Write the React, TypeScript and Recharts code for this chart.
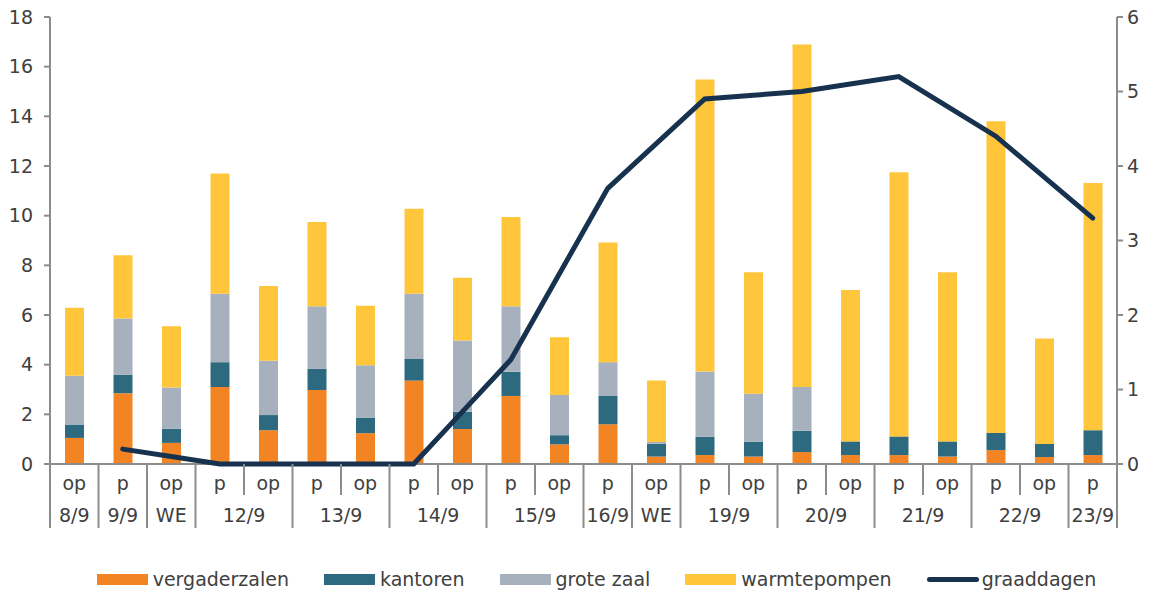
import {
  ComposedChart,
  Bar,
  Line,
  XAxis,
  YAxis,
  Legend,
} from "recharts";

const periods = ["op", "p", "op", "p", "op", "p", "op", "p", "op", "p", "op", "p", "op", "p", "op", "p", "op", "p", "op", "p", "op", "p"];
const groupLabels = ["8/9", "9/9", "WE", "12/9", "13/9", "14/9", "15/9", "16/9", "WE", "19/9", "20/9", "21/9", "22/9", "23/9"];
const groupSpans = [1, 1, 1, 2, 2, 2, 2, 1, 1, 2, 2, 2, 2, 1];

const vergaderzalen = [1.05, 2.85, 0.85, 3.1, 1.36, 2.98, 1.24, 3.36, 1.41, 2.74, 0.79, 1.6, 0.3, 0.36, 0.3, 0.48, 0.36, 0.36, 0.3, 0.56, 0.28, 0.36];
const kantoren = [0.54, 0.75, 0.57, 1.0, 0.61, 0.86, 0.63, 0.87, 0.69, 0.97, 0.37, 1.14, 0.52, 0.74, 0.6, 0.86, 0.55, 0.75, 0.61, 0.69, 0.53, 1.0];
const groteZaal = [1.96, 2.26, 1.66, 2.76, 2.19, 2.51, 2.11, 2.63, 2.87, 2.64, 1.62, 1.36, 0.07, 2.62, 1.93, 1.76, 0, 0, 0, 0, 0, 0];
const warmtepompen = [2.74, 2.55, 2.47, 4.84, 3.01, 3.4, 2.39, 3.42, 2.53, 3.6, 2.32, 4.82, 2.47, 11.76, 4.89, 13.79, 6.1, 10.64, 6.81, 12.55, 4.24, 9.96];
const graaddagen = [null, 0.2, 0.1, 0, 0, 0, 0, 0, 0.7, 1.4, 2.55, 3.7, 4.3, 4.9, 4.95, 5.0, 5.1, 5.2, 4.8, 4.4, 3.85, 3.3];

const leftTicks = [0, 2, 4, 6, 8, 10, 12, 14, 16, 18];
const rightTicks = [0, 1, 2, 3, 4, 5, 6];

const COLORS = {
  vergaderzalen: "#f28423",
  kantoren: "#2e6a7f",
  groteZaal: "#a7b1bd",
  warmtepompen: "#ffc63c",
  graaddagen: "#17324f",
};
const AXIS = "#8c8c8c";
const TEXT = "#404040";
const FONT = "'DejaVu Sans', sans-serif";
const FS = 19;

const W = 1153;
const H = 595;
const PLOT_LEFT = 50;
const PLOT_RIGHT = 1117;
const BAND = (PLOT_RIGHT - PLOT_LEFT) / periods.length;

const data = periods.map((p, i) => ({
  idx: i,
  period: p,
  vergaderzalen: vergaderzalen[i],
  kantoren: kantoren[i],
  groteZaal: groteZaal[i],
  warmtepompen: warmtepompen[i],
  graaddagen: graaddagen[i],
}));

// start index of each date group
const groupStarts: Record<number, number> = {};
let acc = 0;
groupSpans.forEach((s, g) => {
  groupStarts[acc] = g;
  acc += s;
});

const CategoryTick = (props: any) => {
  const { x, y, index } = props;
  const left = x - BAND / 2;
  const g = groupStarts[index];
  const isStart = g !== undefined;
  return (
    <g>
      <line x1={left} x2={left} y1={y} y2={y + (isStart ? 64 : 31)} stroke={AXIS} strokeWidth={2} />
      {index === periods.length - 1 && (
        <line x1={x + BAND / 2} x2={x + BAND / 2} y1={y} y2={y + 64} stroke={AXIS} strokeWidth={2} />
      )}
      <text x={x} y={y + 26} textAnchor="middle" fill={TEXT} fontSize={FS} fontFamily={FONT}>
        {periods[index]}
      </text>
      {isStart && (
        <text
          x={left + (groupSpans[g] * BAND) / 2}
          y={y + 58}
          textAnchor="middle"
          fill={TEXT}
          fontSize={FS}
          fontFamily={FONT}
        >
          {groupLabels[g]}
        </text>
      )}
    </g>
  );
};

const legendItems = [
  { key: "vergaderzalen", name: "vergaderzalen", line: false },
  { key: "kantoren", name: "kantoren", line: false },
  { key: "groteZaal", name: "grote zaal", line: false },
  { key: "warmtepompen", name: "warmtepompen", line: false },
  { key: "graaddagen", name: "graaddagen", line: true },
];

const LegendContent = () => (
  <div
    style={{
      display: "flex",
      justifyContent: "center",
      alignItems: "center",
      fontFamily: FONT,
      fontSize: FS,
      color: TEXT,
      paddingLeft: 40,
    }}
  >
    {legendItems.map((it, i) => (
      <div key={it.key} style={{ display: "flex", alignItems: "center", marginLeft: i === 0 ? 0 : 35 }}>
        {it.line ? (
          <div style={{ width: 52, height: 5, borderRadius: 3, background: (COLORS as any)[it.key], marginRight: 3 }} />
        ) : (
          <div style={{ width: 51, height: 11, background: (COLORS as any)[it.key], marginRight: 5 }} />
        )}
        <span>{it.name}</span>
      </div>
    ))}
  </div>
);

const App = () => {
  return (
    <div style={{ position: "absolute", left: 0, top: 0, width: W, height: H, background: "#fff" }}>
      <ComposedChart
        width={W}
        height={H}
        data={data}
        margin={{ top: 17, right: 0, left: 0, bottom: 51 }}
        style={{ fontFamily: FONT }}
      >
        <XAxis
          dataKey="idx"
          xAxisId="x"
          height={80}
          interval={0}
          tickSize={0}
          tickMargin={0}
          tickLine={false}
          axisLine={{ stroke: AXIS, strokeWidth: 2 }}
          tick={<CategoryTick />}
        />
        <YAxis
          yAxisId="left"
          width={50}
          domain={[0, 18]}
          ticks={leftTicks}
          interval={0}
          tickSize={6}
          tickMargin={11}
          axisLine={{ stroke: AXIS, strokeWidth: 2 }}
          tickLine={{ stroke: AXIS, strokeWidth: 2 }}
          tick={{ fill: TEXT, fontSize: FS, fontFamily: FONT }}
        />
        <YAxis
          yAxisId="right"
          orientation="right"
          width={36}
          domain={[0, 6]}
          ticks={rightTicks}
          interval={0}
          tickSize={6}
          tickMargin={4}
          axisLine={{ stroke: AXIS, strokeWidth: 2 }}
          tickLine={{ stroke: AXIS, strokeWidth: 2 }}
          tick={{ fill: TEXT, fontSize: FS, fontFamily: FONT, textAnchor: "start" }}
        />
        <Bar xAxisId="x" yAxisId="left" dataKey="vergaderzalen" stackId="a" barSize={19} fill={COLORS.vergaderzalen} isAnimationActive={false} />
        <Bar xAxisId="x" yAxisId="left" dataKey="kantoren" stackId="a" barSize={19} fill={COLORS.kantoren} isAnimationActive={false} />
        <Bar xAxisId="x" yAxisId="left" dataKey="groteZaal" name="grote zaal" stackId="a" barSize={19} fill={COLORS.groteZaal} isAnimationActive={false} />
        <Bar xAxisId="x" yAxisId="left" dataKey="warmtepompen" stackId="a" barSize={19} fill={COLORS.warmtepompen} isAnimationActive={false} />
        <Line
          xAxisId="x"
          yAxisId="right"
          dataKey="graaddagen"
          stroke={COLORS.graaddagen}
          strokeWidth={5}
          strokeLinecap="round"
          dot={false}
          activeDot={false}
          isAnimationActive={false}
          {...({ zIndex: 1000 } as any)}
        />
        <Legend
          layout="horizontal"
          verticalAlign="middle"
          align="center"
          content={<LegendContent />}
          wrapperStyle={{ top: 568, left: 0, width: W }}
        />
      </ComposedChart>
    </div>
  );
};

export default App;
